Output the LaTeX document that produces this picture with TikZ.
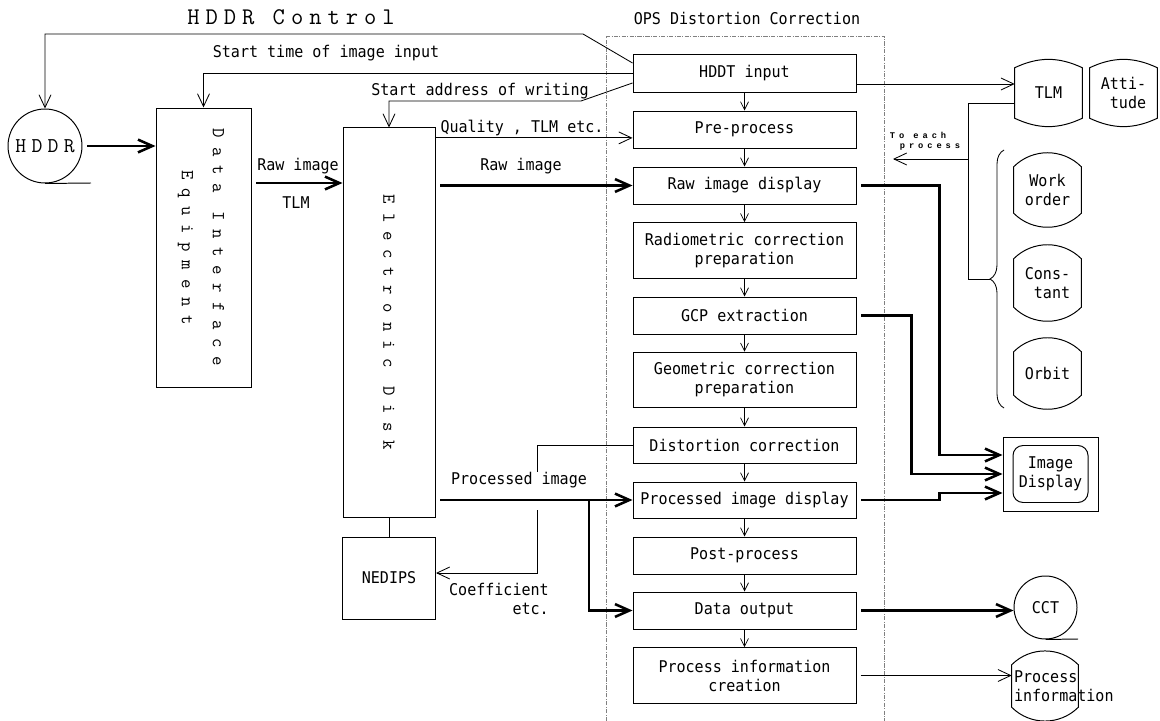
\documentclass[tikz,border=0pt]{standalone}
\usepackage{fontspec}
\usepackage{graphicx}
\usetikzlibrary{arrows.meta,decorations.pathreplacing}
\newfontfamily\labfont[FakeStretch=0.93]{DejaVu Sans Mono}
\newfontfamily\tinyfont[LetterSpace=45]{Liberation Mono}
\newfontfamily\titlefont[LetterSpace=25]{Latin Modern Mono}
\newfontfamily\widefont[LetterSpace=48]{Latin Modern Mono}
% tape drum outline around a node
\newcommand\drum[2][45]{%
  \draw[line width=0.7pt] (#2.north west) to[bend left=#1] (#2.north east)
    -- (#2.south east) to[bend left=#1] (#2.south west) -- cycle;}
\tikzset{
  lab/.style={font=\labfont\fontsize{11.5}{13.5}\selectfont, inner sep=0pt, align=center},
  opsbox/.style={lab, draw, line width=0.7pt, minimum width=55.75mm, minimum height=9.25mm},
  tallbox/.style={opsbox, minimum height=13.9mm},
  bigbox/.style={draw, line width=0.7pt, inner sep=0pt, font=\widefont\fontsize{13}{22}\selectfont},
  drumbox/.style={lab, minimum width=16.75mm, minimum height=11.5mm},
  opsframe/.style={gray, line width=0.4pt, dash pattern=on 3pt off 1pt on 0.6pt off 1pt},
  thinarr/.style={line width=0.6pt, -{Straight Barb[length=3.2mm,width=3mm]}},
  steparr/.style={line width=0.5pt, -{Straight Barb[length=2mm,width=2mm]}},
  thickarr/.style={line width=1.8pt, -{Straight Barb[length=3.6mm,width=3.2mm]}, shorten <=1.2mm},
}
\begin{document}
\begin{tikzpicture}[x=0.25mm,y=-0.25mm]
\useasboundingbox (0,0) rectangle (1160,721);
% titles and OPS frame
\node[font=\titlefont\fontsize{17}{19}\selectfont] (ctltitle) at (291,17) {HDDR Control};
\node[lab] (opstitle) at (747,18) {OPS Distortion Correction};
\draw[opsframe] (606,721) |- (884,36) -- (884,721);

% left side
\node[circle, draw, line width=0.7pt, minimum size=18.5mm, inner sep=0pt,
  font=\titlefont\fontsize{15}{17}\selectfont] (hddr) at (45,146) {HDDR};
\draw[line width=0.7pt] (hddr.south) -- (91,183);
\node[bigbox, minimum width=23.75mm, minimum height=69.75mm] (die) at (203.5,247.5)
  {\rotatebox{-90}{\begin{tabular}{@{}c@{}}Data Interface\\Equipment\end{tabular}}};
\node[bigbox, minimum width=23mm, minimum height=97.25mm] (ed) at (389,322.5)
  {\rotatebox{-90}{Electronic Disk}};
\node[lab, draw, line width=0.7pt, minimum width=23.25mm, minimum height=20.5mm] (nedips) at (389,578) {NEDIPS};
\draw[line width=0.7pt] (ed) -- (nedips);

% OPS column
\node[opsbox, minimum height=9.5mm] (hddt) at (744.5,73) {HDDT input};
\node[opsbox] (pre) at (744.5,129.5) {Pre-process};
\node[opsbox] (rawdisp) at (744.5,185.5) {Raw image display};
\node[tallbox] (radio) at (744.5,250.5) {Radiometric correction\\preparation};
\node[opsbox] (gcp) at (744.5,315.5) {GCP extraction};
\node[tallbox] (geo) at (744.5,380) {Geometric correction\\preparation};
\node[opsbox, minimum height=9mm] (dist) at (744.5,445) {Distortion correction};
\node[opsbox, minimum height=9mm] (procdisp) at (744.5,500) {Processed image display};
\node[opsbox] (post) at (744.5,555.5) {Post-process};
\node[opsbox] (dataout) at (744.5,610.5) {Data output};
\node[tallbox] (pinfo) at (744.5,675.5) {Process information\\creation};
\foreach \a/\b in {hddt/pre,pre/rawdisp,rawdisp/radio,radio/gcp,gcp/geo,geo/dist,
  dist/procdisp,procdisp/post,post/dataout,dataout/pinfo}
  \draw[steparr] (\a) -- (\b);

% right side
\node[drumbox, minimum height=12.5mm] (tlm) at (1048.5,93) {TLM};
\node[drumbox, minimum height=12.5mm, align=right] (att) at (1123.5,93) {Atti-\\tude};
\node[drumbox] (work) at (1047.5,190) {Work\\order};
\node[drumbox, minimum height=12mm, align=right] (const) at (1047.5,283) {Cons-\\tant};
\node[drumbox, minimum height=10.75mm] (orbit) at (1047.5,373.5) {Orbit};
\node[drumbox, minimum width=16.5mm, minimum height=10.5mm, text width=15.5mm, align=left] (pdrum)
  at (1045,686) {Process\\information};
\drum[25]{tlm}
\drum[25]{att}
\drum{work}
\drum{const}
\drum{orbit}
\drum{pdrum}
\draw[line width=0.6pt, decorate, decoration={brace, amplitude=3.5mm}] (1004,408) -- (1004,150);
\node[draw, line width=0.7pt, minimum width=23.75mm, minimum height=18.5mm] (imgbox) at (1050.5,474) {};
\node[lab, draw, line width=0.7pt, rounded corners=2.5mm, minimum width=18.75mm,
  minimum height=14.25mm] (imgdisp) at (imgbox) {Image\\Display};
\node[lab, circle, draw, line width=0.7pt, minimum size=15.75mm] (cct) at (1045.5,607.5) {CCT};
\draw[line width=0.7pt] (cct.south) -- (1078,639);

% control lines from HDDT input
\coordinate (ctlbend) at (583,34);
\coordinate (addrbend) at (581,101);
\draw[thinarr] ([yshift=2.5mm]hddt.west) -- (ctlbend) -| (hddr.north);
\draw[thinarr] (hddt.west) -| (die.north);
\draw[thinarr] ([yshift=-2.5mm]hddt.west) -- (addrbend) -| (ed.north);
\node[lab] (starttxt) at (326,53) {Start time of image input};
\node[lab] (addrtxt) at (480,91) {Start address of writing};

% data flow
\draw[thickarr] (hddr.east) -- (hddr.east -| die.west);
\draw[thickarr] (die.east |- 0,183) -- (ed.west |- 0,183);
\node[lab] (rawtxt1) at (298,166) {Raw image};
\node[lab] (tlmtxt) at (296,203) {TLM};
\coordinate (qin) at ([yshift=-2.1mm]pre.west);
\draw[thinarr] (qin -| ed.east) -- (qin);
\node[lab] (qualtxt) at (522,128) {Quality , TLM etc.};
\draw[thickarr] (ed.east |- rawdisp) -- (rawdisp.west);
\node[lab] (rawtxt2) at (521,166) {Raw image};
\draw[thickarr] (ed.east |- procdisp) -- (procdisp.west);
\node[lab] (proctxt) at (519,480) {Processed image};
\coordinate (split) at (589,500);
\draw[thickarr, shorten <=0pt] (split) |- (dataout.west);
\coordinate (cfa) at (537,472);
\coordinate (cfb) at (537,510);
\draw[line width=0.6pt] (dist.west) -| (cfa);
\draw[thinarr] (cfb) |- ([yshift=1.25mm]nedips.east);
\node[lab, align=right, anchor=north east] (coeftxt) at (549,583) {Coefficient\\etc.};

% outputs
\coordinate (tlmin) at ([yshift=-2.75mm]hddt.east);
\draw[thinarr] (tlmin) -- (tlmin -| tlm.west);
\coordinate (tap) at (968,159);
\coordinate (brtip) at (990,279);
\coordinate (eachp) at (893,159);
\draw[line width=0.6pt] ([yshift=-2.5mm]tlm.west) -| (brtip -| tap) -- (brtip);
\draw[thinarr] (tap) -- (eachp);
\node[font=\tinyfont\bfseries\fontsize{6.2}{7}\selectfont, align=left, inner sep=0pt] (eachtxt)
  at (925,141) {To each\\\hspace*{2.5mm}process};
\draw[thickarr] (rawdisp.east) -- ++(83,0) |- ([yshift=4.75mm]imgbox.west);
\draw[thickarr] (gcp.east) -- ++(55,0) |- (imgbox.west);
\draw[thickarr] (procdisp.east) -- ++(83,0) |- ([yshift=-4.75mm]imgbox.west);
\draw[thickarr] (dataout.east) -- (dataout.east -| cct.west);
\draw[thinarr, shorten <=1mm] (pinfo.east) -- (pinfo.east -| pdrum.west);
\end{tikzpicture}
\end{document}
